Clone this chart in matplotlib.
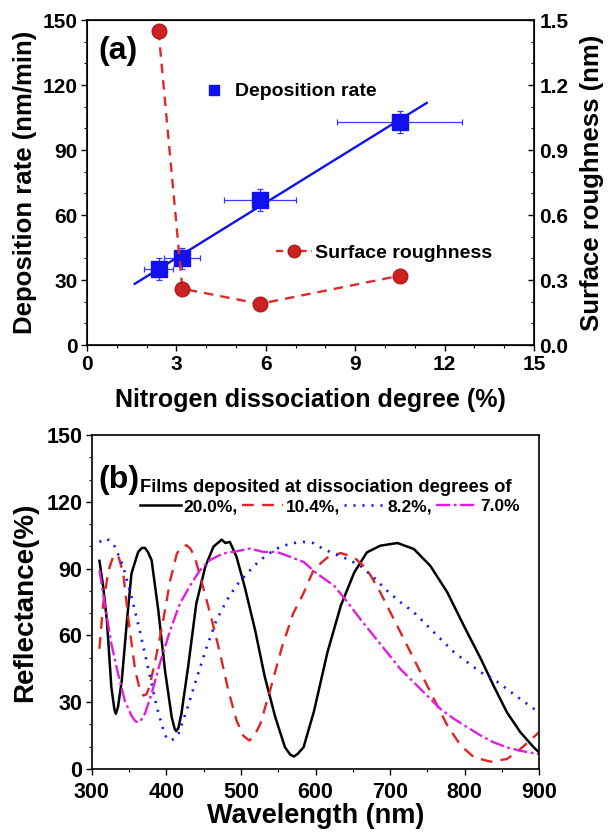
import numpy as np
import matplotlib
matplotlib.use('Agg')
import matplotlib.pyplot as plt
from matplotlib.lines import Line2D

plt.rcParams['font.family'] = ['Liberation Sans', 'DejaVu Sans']
plt.rcParams['font.weight'] = 'bold'

# panel (a)
deg = [2.4, 3.2, 5.8, 10.5]
rate = [35, 40, 67, 103]
rate_xerr = [0.5, 0.6, 1.2, 2.1]
rate_yerr = [5, 5, 5, 5]
rough = [1.45, 0.26, 0.19, 0.32]
fit_range = [1.6, 11.4]

# panel (b)
wl_200 = [310, 315, 320, 326, 330, 332, 335, 340, 347, 353, 362, 367, 371, 375, 380, 389, 398, 407,
          411, 413, 416, 420, 429, 440, 452, 463, 474, 479, 485, 494, 505, 519, 532, 546, 559, 566,
          571, 576, 584, 598, 616, 634, 652, 669, 687, 710, 732, 754, 777, 799, 822, 839, 857, 875,
          893, 900]
r_200 = [93.5, 82, 66.8, 36.8, 27, 24.8, 28, 39.8, 66.8, 87.8, 97.5, 99.3, 99.3, 97.5, 93.8, 71.3,
         44.3, 23.3, 18, 17, 18.5, 24.8, 45.8, 74.3, 90.8, 99.8, 103, 101.5, 102, 95.3, 81.8, 62.3,
         41.3, 23.3, 9.8, 6.5, 5.6, 6.8, 9.8, 26, 52.4, 73.4, 88.3, 97.3, 100.3, 101.5, 98.8, 91.3,
         79.3, 64.4, 49.4, 37.4, 25.4, 16.5, 9.7, 7.5]

wl_104 = [310, 315, 322, 328, 332, 336, 342, 349, 358, 364, 369, 373, 377, 385, 394, 405, 414, 421,
          427, 432, 438, 449, 461, 472, 483, 494, 503, 511, 518, 526, 539, 555, 570, 584, 598, 616,
          634, 652, 669, 687, 705, 723, 741, 759, 777, 795, 813, 835, 857, 875, 900]
r_104 = [54, 74, 89, 95, 96.5, 95, 87.8, 66.8, 44.3, 36, 33, 33.5, 36.8, 48.8, 63.8, 84.8, 96.8,
         100, 100.5, 99, 95.3, 81.8, 66.8, 51.8, 35.3, 21.8, 15, 12.8, 15, 20.3, 35.3, 54.8, 69.8, 79,
         89.8, 95, 97, 95, 89.8, 79.3, 67.4, 55.4, 43.4, 31.4, 19.5, 10.5, 5.2, 3.3, 4.5, 9, 16.5]

wl_82 = [310, 320, 331, 342, 353, 364, 376, 387, 396, 400, 405, 410, 416, 427, 441, 454, 467, 481,
         494, 508, 521, 534, 548, 566, 584, 597, 607, 625, 643, 660, 678, 696, 714, 732, 750, 768,
         786, 804, 822, 839, 857, 875, 900]
r_82 = [102, 103.5, 99.8, 90.8, 77.3, 62.3, 44.3, 27.8, 17.3, 14, 12.8, 13.5, 15.8, 26.3, 41.3,
        54.8, 66.8, 75.8, 82.5, 87.8, 92.3, 96, 99, 101.3, 102, 101.5, 99.5, 96.6, 94.3, 91.3, 86.1,
        80.1, 74.9, 70.4, 64.4, 58.4, 52.4, 47.9, 43.4, 40.4, 35.9, 31.4, 25.4]

wl_70 = [310, 317, 326, 335, 344, 353, 358, 362, 366, 371, 380, 391, 405, 418, 432, 445, 458, 476,
         494, 512, 530, 548, 566, 584, 601, 625, 643, 660, 678, 696, 714, 732, 750, 768, 786, 804,
         822, 839, 857, 875, 900]
r_70 = [89.3, 74.3, 56.3, 42.8, 30.8, 24, 21.5, 21, 22, 24.8, 33.8, 47.3, 62.3, 74.3, 82.5, 89.3,
        93.8, 96.8, 97.8, 99, 97.5, 97.5, 95.3, 93, 88, 82.3, 74.9, 67.4, 59.9, 52.4, 44.9, 38.9,
        32.9, 26.9, 22.5, 18.7, 15, 12, 9.7, 8.2, 6.7]
labels_b = ['20.0%,', '10.4%,', '8.2%,', '7.0%']

blue = '#1010f0'

fig = plt.figure(figsize=(6.14, 8.34), dpi=100)
ax1 = fig.add_axes([0.1417, 0.5863, 0.728, 0.3897])
ax2 = ax1.twinx()
ax3 = fig.add_axes([0.1498, 0.0779, 0.7281, 0.4005])

# --- (a)
slope, icpt = np.polyfit(deg, rate, 1)
fx = np.array(fit_range)
ax1.plot(fx, slope * fx + icpt, color=blue, lw=1.7, zorder=3)
ax1.errorbar(deg, rate, xerr=rate_xerr, yerr=rate_yerr, fmt='s', color=blue, ms=11,
             ecolor='#3a3aff', elinewidth=0.9, capsize=2.5, capthick=0.9, zorder=4)
ax2.plot(deg, rough, '--', color='#e02828', lw=1.7, dashes=(4, 3), marker='o', ms=10.5,
         mfc='#cc2222', mec='#b01a1a', zorder=3)

ax1.set_xlim(0, 15)
ax1.set_ylim(0, 150)
ax2.set_ylim(0, 1.5)
ax1.set_xticks(np.arange(0, 16, 3))
ax1.set_xticks(np.arange(0, 16, 1), minor=True)
ax1.set_yticks(np.arange(0, 151, 30))
ax1.set_yticks(np.arange(0, 151, 10), minor=True)
ax2.set_yticks(np.arange(0, 1.51, 0.3))
ax2.set_yticks(np.arange(0, 1.51, 0.1), minor=True)
ax2.set_yticklabels(['%.1f' % v for v in np.arange(0, 1.51, 0.3)])

ax1.tick_params(axis='both', which='major', direction='out', length=4, width=1, labelsize=15, pad=3)
ax1.tick_params(axis='both', which='minor', direction='out', length=2.5, width=0.8)
ax2.tick_params(axis='y', which='major', direction='in', length=4, width=1, labelsize=15, pad=4)
ax2.tick_params(axis='y', which='minor', direction='in', length=2.5, width=0.8)

ax1.set_xlabel('Nitrogen dissociation degree (%)', fontsize=18, fontweight='bold', labelpad=10)
ax1.set_ylabel('Deposition rate (nm/min)', fontsize=18.5, fontweight='bold', labelpad=4)
ax2.set_ylabel('Surface roughness (nm)', fontsize=18.5, fontweight='bold', labelpad=8)
ax1.text(0.025, 0.905, '(a)', transform=ax1.transAxes, fontsize=23, fontweight='bold', va='center')

h1 = Line2D([], [], ls='none', marker='s', ms=7.5, color=blue)
ax1.legend([h1], ['Deposition rate'], loc='center left', bbox_to_anchor=(0.237, 0.78),
           frameon=False, fontsize=14, handlelength=1.2, handletextpad=0.45, borderpad=0)
h2 = Line2D([], [], ls='--', dashes=(3, 2), lw=1.7, color='#e02828', marker='o', ms=9,
            mfc='#cc2222', mec='#b01a1a')
ax2.legend([h2], ['Surface roughness'], loc='center left', bbox_to_anchor=(0.4, 0.283),
           frameon=False, fontsize=14, handlelength=1.9, handletextpad=0.15, borderpad=0)

for sp in ax1.spines.values():
    sp.set_linewidth(1.2)

# --- (b)
ax3.plot(wl_200, r_200, color='black', lw=1.8, label=labels_b[0])
ax3.plot(wl_104, r_104, color='#e02424', lw=1.7, dashes=(5, 3.5), label=labels_b[1])
ax3.plot(wl_82, r_82, color='#1515ff', lw=1.9, dashes=(0.8, 2.6), label=labels_b[2])
ax3.plot(wl_70, r_70, color='#e01ee0', lw=1.7, dashes=(6, 1.5, 1.2, 1.5), label=labels_b[3])

ax3.set_xlim(300, 900)
ax3.set_ylim(0, 150)
ax3.set_xticks(np.arange(300, 901, 100))
ax3.set_xticks(np.arange(300, 901, 50), minor=True)
ax3.set_yticks(np.arange(0, 151, 30))
ax3.set_yticks(np.arange(0, 151, 10), minor=True)
ax3.tick_params(axis='both', which='major', direction='out', length=4, width=1, labelsize=15.5)
ax3.tick_params(axis='x', which='major', pad=5)
ax3.tick_params(axis='y', which='major', pad=3)
ax3.tick_params(axis='both', which='minor', direction='out', length=2.5, width=0.8)
ax3.set_xlabel('Wavelength (nm)', fontsize=19.5, fontweight='bold', labelpad=0)
ax3.set_ylabel('Reflectance(%)', fontsize=20, fontweight='bold', labelpad=6)
ax3.text(0.015, 0.865, '(b)', transform=ax3.transAxes, fontsize=23, fontweight='bold', va='center')
ax3.legend(loc='upper left', bbox_to_anchor=(0.088, 0.895), ncol=4, frameon=False, fontsize=12.5,
           title='Films deposited at dissociation degrees of', alignment='left',
           title_fontproperties={'weight': 'bold', 'size': 13.2},
           handlelength=2.35, handletextpad=0.15, columnspacing=0.25, borderpad=0, labelspacing=0.2)
for sp in ax3.spines.values():
    sp.set_linewidth(1.2)

fig.savefig('out.png', dpi=100)
